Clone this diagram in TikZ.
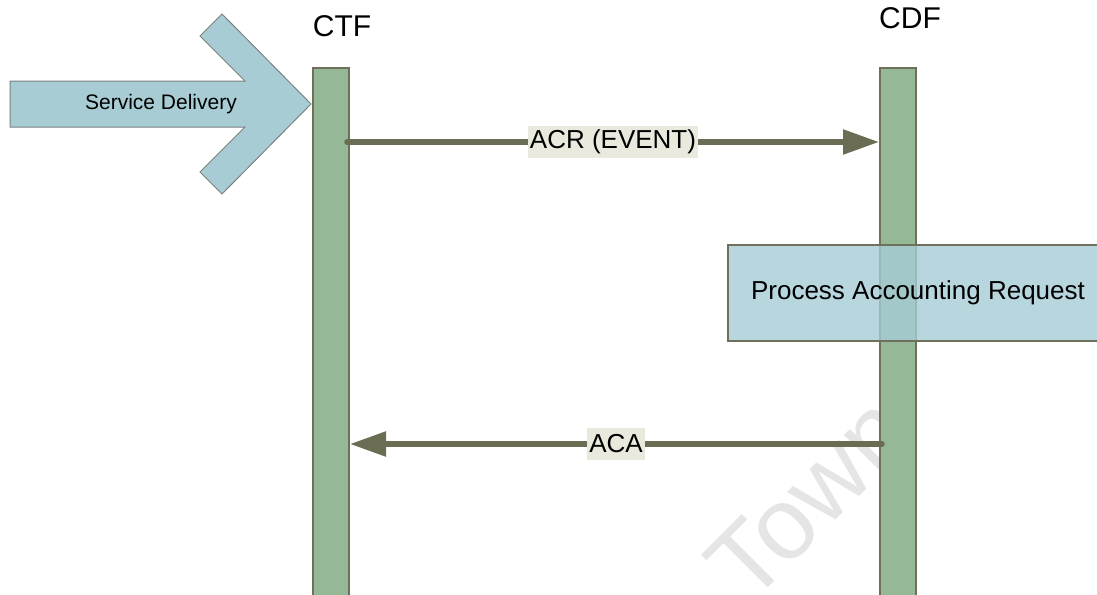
\documentclass[tikz,border=0pt]{standalone}
\usepackage{fontspec}
\setmainfont{Liberation Sans}
\usepackage{xcolor}
\usetikzlibrary{arrows.meta}
\definecolor{barfill}{RGB}{149,184,150}
\definecolor{barline}{RGB}{110,112,92}
\definecolor{msgline}{RGB}{106,109,83}
\definecolor{lblfill}{RGB}{233,233,221}
\definecolor{svcfill}{RGB}{168,204,212}
\definecolor{svcline}{RGB}{122,130,130}
\definecolor{procfill}{RGB}{166,204,214}

\begin{document}
\begin{tikzpicture}[x=1pt,y=-1pt]
\tikzstyle{every node}=[font=\fontsize{26}{31}\selectfont]
\tikzstyle{lifebar}=[draw=barline, line width=2pt, fill=barfill, minimum width=36pt, minimum height=540pt, anchor=north, inner sep=0pt]
\tikzstyle{msg}=[line width=5.5pt, draw=msgline, line cap=round, -{Triangle[length=36pt,width=24pt]}]
\tikzstyle{msglabel}=[fill=lblfill, inner sep=2pt, minimum height=32pt]
\tikzstyle{headlbl}=[font=\fontsize{30}{36}\selectfont, anchor=base]
\useasboundingbox (0,0) rectangle (1097,594);
% watermark, only left of the CDF bar
\begin{scope}
\clip (0,0) rectangle (879,594);
\node [text=black!10, font=\fontsize{102}{107}\selectfont, rotate=45, anchor=base west] (wm) at (747,609) {Town};
\end{scope}
% lifelines
\node [lifebar] (ctf) at (331,67) {};
\node [lifebar] (cdf) at (898,67) {};
\node [headlbl] (ctflbl) at (342,37) {CTF};
\node [headlbl] (cdflbl) at (910,29) {CDF};
% service delivery arrow
\draw [draw=svcline, fill=svcfill, line width=1pt] (10,81) -- (245,81) -- (200,36) -- (222,14) -- (311,104) -- (222,194) -- (200,172) -- (245,127) -- (10,127) -- cycle;
\node [font=\fontsize{21}{25}\selectfont] (svc) at (161,104) {Service Delivery};
% messages
\coordinate (acr) at (0,142);
\coordinate (aca) at (0,444);
\draw [msg] ([xshift=-3pt]ctf.east |- acr) -- (cdf.west |- acr) node [midway, msglabel] (acrlbl) {ACR (EVENT)};
\node [draw=barline, line width=1.5pt, fill=procfill, fill opacity=0.8, text opacity=1, minimum width=380pt, minimum height=96pt] (proc) at (918,293) {Process Accounting Request};
\draw [msg] ([xshift=3pt]cdf.west |- aca) -- (ctf.east |- aca) node [midway, msglabel] (acalbl) {ACA};
\end{tikzpicture}
\end{document}
